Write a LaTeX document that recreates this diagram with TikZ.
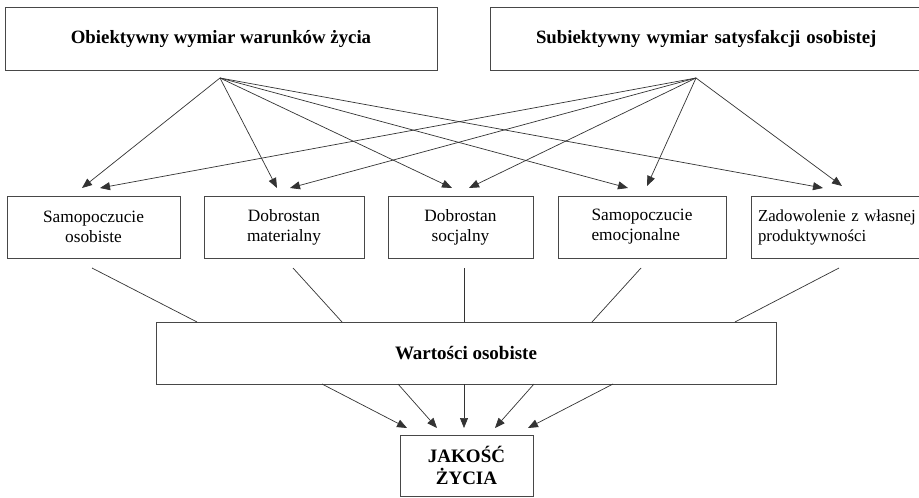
\documentclass[tikz,border=0pt]{standalone}
\usepackage{fontspec}
\setmainfont{Liberation Serif}
\usetikzlibrary{arrows.meta}
\begin{document}
\begin{tikzpicture}[x=1pt,y=-1pt,
  boxline/.style={draw=black!72, line width=0.8pt, inner sep=0pt},
  topbox/.style={boxline, minimum height=63pt, font=\fontsize{18.8}{22}\selectfont\bfseries},
  midbox/.style={boxline, minimum height=62pt, align=center, font=\fontsize{17.3}{20}\selectfont},
  midboxl/.style={midbox, align=left},
  conn/.style={draw=black!80, line width=0.7pt},
  arr/.style={conn, -{Triangle[length=10pt,width=8pt]}}]
\useasboundingbox (0,0) rectangle (919,498);
\clip (0,0) rectangle (919,498);
\fill[white] (0,0) rectangle (919,498);

% top boxes
\node[topbox, minimum width=432pt] (ob) at (221,38.5) {Obiektywny wymiar warunków życia};
\node[topbox, minimum width=450pt, text width=430pt, align=left] (sub) at (715,38.5) {\hspace*{36pt}Subiektywny wymiar satysfakcji osobistej};

% middle boxes
\node[midbox, minimum width=173pt] (m1) at (93.5,227) {Samopoczucie\\osobiste};
\node[midbox, minimum width=160pt] (m2) at (284,227) {Dobrostan\\materialny};
\node[midbox, minimum width=145pt] (m3) at (460.5,227) {Dobrostan\\socjalny};
\node[midboxl, minimum width=168pt] (m4) at (642,227) {Samopoczucie\\emocjonalne};
\node[midboxl, minimum width=196pt, text width=182pt, font=\fontsize{16.8}{20}\selectfont] (m5) at (849,227) {Zadowolenie z własnej\\produktywności};

% values and quality
\node[boxline, minimum width=620pt, minimum height=62pt, font=\fontsize{19}{22}\selectfont\bfseries] (w) at (466,353) {Wartości osobiste};
\node[boxline, minimum width=133pt, minimum height=61pt, align=center, font=\fontsize{19}{22}\selectfont\bfseries] (j) at (466.5,465.5) {JAKOŚĆ\\ŻYCIA};

% sources
\coordinate (s1) at (220,78);
\coordinate (s2) at (696,78);
% tips above middle boxes
\coordinate (t1a) at (82,188);  \coordinate (t1b) at (100,188);
\coordinate (t2a) at (277,188); \coordinate (t2b) at (290,188);
\coordinate (t3a) at (452,188); \coordinate (t3b) at (469,188);
\coordinate (t4a) at (628,188); \coordinate (t4b) at (647,186);
\coordinate (t5a) at (823,188); \coordinate (t5b) at (842,186);

\foreach \t in {t1a,t2a,t3a,t4a,t5a} \draw[arr] (s1) -- (\t);
\foreach \t in {t1b,t2b,t3b,t4b,t5b} \draw[arr] (s2) -- (\t);

% middle boxes to values
\coordinate (b1) at (92,268);  \coordinate (e1) at (197,322);
\coordinate (b2) at (293,268); \coordinate (e2) at (342,322);
\coordinate (b3) at (464,268); \coordinate (e3) at (464,322);
\coordinate (b4) at (641,268); \coordinate (e4) at (592,322);
\coordinate (b5) at (839,268); \coordinate (e5) at (735,322);
\foreach \i in {1,...,5} \draw[conn] (b\i) -- (e\i);

% values to quality
\coordinate (f1) at (322,384); \coordinate (g1) at (407,428);
\coordinate (f2) at (398,384); \coordinate (g2) at (437,428);
\coordinate (f3) at (464,384); \coordinate (g3) at (464,428);
\coordinate (f4) at (534,384); \coordinate (g4) at (495,428);
\coordinate (f5) at (613,384); \coordinate (g5) at (528,428);
\foreach \i in {1,...,5} \draw[arr] (f\i) -- (g\i);
\end{tikzpicture}
\end{document}
